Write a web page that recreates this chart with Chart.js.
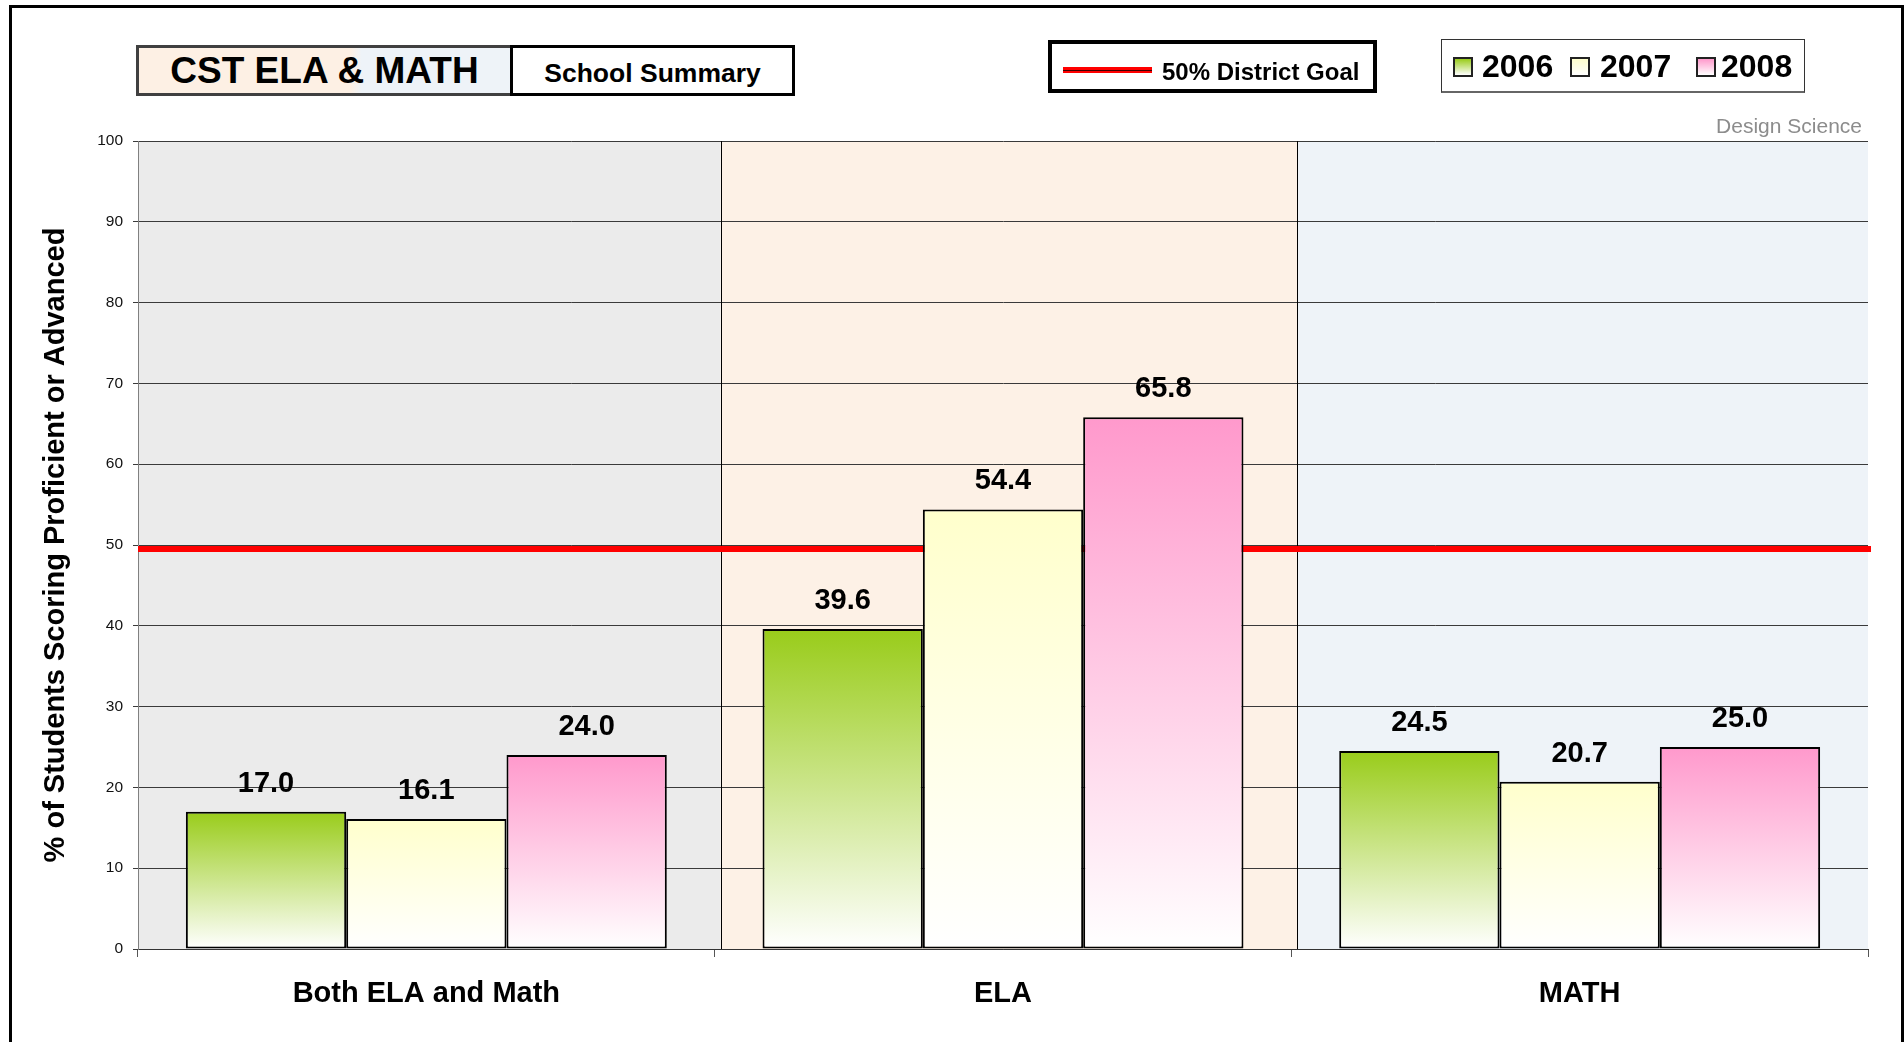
<!DOCTYPE html>
<html>
<head>
<meta charset="utf-8">
<script src="https://cdn.jsdelivr.net/npm/chart.js@4.4.1/dist/chart.umd.min.js"></script>
<style>
  html, body { margin: 0; padding: 0; background: #fff; width: 1904px; height: 1042px; overflow: hidden; }
  body { position: relative; font-family: "Liberation Sans", Arial, sans-serif; }
  #chart { position: absolute; left: 0; top: 0; }
  .abs { position: absolute; box-sizing: border-box; }
  .txt { position: absolute; line-height: 1; white-space: nowrap; font-weight: bold; color: #000; }
  #frame { left: 9px; top: 5px; width: 1895px; height: 1100px; border: 3px solid #000; }
  #titleL { left: 136px; top: 45px; width: 377px; height: 51px; border: 3px solid #404040;
    background: linear-gradient(to right, #fdf0e4 0%, #fdf0e4 57%, #eef3f8 60%, #eef3f8 100%); }
  #titleR { left: 510px; top: 45px; width: 285px; height: 51px; border: 3px solid #000; background: #fff; }
  #goalBox { left: 1048px; top: 40px; width: 329px; height: 53px; border: 4px solid #000; background: #fff; }
  #yearBox { left: 1441px; top: 39px; width: 364px; height: 54px; border: 1px solid #333; border-bottom: 2px solid #666; background: #fff; }
  .sq { position: absolute; width: 20px; height: 20px; box-sizing: border-box; border: 2px solid #222; }
</style>
</head>
<body>
<canvas id="chart" width="1904" height="1042"></canvas>
<div class="abs" id="frame"></div>
<div class="abs" id="titleL"></div>
<div class="abs" id="titleR"></div>
<div class="txt" id="titleText" style="left:136px; width:377px; text-align:center; top:51.7px; font-size:37px;"></div>
<div class="txt" id="subText" style="left:510px; width:285px; text-align:center; top:59.6px; font-size:26.5px;"></div>
<div class="abs" id="goalBox"></div>
<div class="abs" style="left:1063px; top:67px; width:89px; height:6px; background:#ff0000;"></div>
<div class="abs" style="left:1063px; top:69.5px; width:89px; height:1px; background:#400000;"></div>
<div class="txt" id="goalText" style="left:1162px; top:59.7px; font-size:24px;"></div>
<div class="abs" id="yearBox"></div>
<div id="yearItems"></div>
<div class="txt" id="credit" style="right:42px; top:115.2px; font-size:21px; font-weight:normal; color:#8c8c8c;"></div>

<script>
// ---- data ----
const categories = ['Both ELA and Math', 'ELA', 'MATH'];
const years = ['2006', '2007', '2008'];
const values2006 = [17.0, 39.6, 24.5];
const values2007 = [16.1, 54.4, 20.7];
const values2008 = [24.0, 65.8, 25.0];
const districtGoal = 50;
const yMin = 0, yMax = 100, yStep = 10;
const yAxisTitle = '% of Students Scoring Proficient or Advanced';
const titleMain = 'CST ELA & MATH';
const titleSub = 'School Summary';
const goalLabel = '50% District Goal';
const creditLabel = 'Design Science';

// ---- styles ----
const FONT = '"Liberation Sans", Arial, sans-serif';
const topColors = ['#99cc1a', '#ffffcc', '#ff99cc'];
const bandColors = ['#ebebeb', '#fdf1e6', '#eef3f8'];

document.getElementById('titleText').textContent = titleMain;
document.getElementById('subText').textContent = titleSub;
document.getElementById('goalText').textContent = goalLabel;
document.getElementById('credit').textContent = creditLabel;

// year legend
const sqX = [1453, 1570, 1696];
const txX = [1482, 1600, 1721];
const yi = document.getElementById('yearItems');
years.forEach((y, i) => {
  const s = document.createElement('div');
  s.className = 'sq';
  s.style.left = sqX[i] + 'px';
  s.style.top = '57px';
  s.style.background = `linear-gradient(to bottom, ${topColors[i]}, #ffffff)`;
  yi.appendChild(s);
  const t = document.createElement('div');
  t.className = 'txt';
  t.style.left = txX[i] + 'px';
  t.style.top = '50px';
  t.style.fontSize = '32px';
  t.textContent = y;
  yi.appendChild(t);
});

Chart.defaults.font.family = FONT;

function gradientFor(i) {
  return (ctx) => {
    const chart = ctx.chart;
    const area = chart.chartArea;
    if (!area || ctx.type !== 'data') return topColors[i];
    const ys = chart.scales.y;
    const yTop = ys.getPixelForValue(ctx.raw);
    const yBase = ys.getPixelForValue(0);
    const g = chart.ctx.createLinearGradient(0, yTop, 0, yBase);
    g.addColorStop(0, topColors[i]);
    g.addColorStop(1, '#ffffff');
    return g;
  };
}

function boundary(xs, i) {
  return (xs.getPixelForValue(i - 1) + xs.getPixelForValue(i)) / 2;
}

const bandsPlugin = {
  id: 'bands',
  beforeDraw(chart) {
    const { ctx, chartArea: a, scales } = chart;
    const xs = scales.x;
    ctx.save();
    for (let i = 0; i < categories.length; i++) {
      const x0 = i === 0 ? a.left : boundary(xs, i) + 6;
      const x1 = i === categories.length - 1 ? a.right : boundary(xs, i + 1) + 6;
      ctx.fillStyle = bandColors[i];
      ctx.fillRect(x0, a.top, x1 - x0, a.bottom - a.top);
    }
    ctx.restore();
  },
  beforeDatasetsDraw(chart) {
    const { ctx, chartArea: a, scales } = chart;
    const xs = scales.x, ys = scales.y;
    ctx.save();
    ctx.strokeStyle = '#000';
    ctx.lineWidth = 1;
    for (let i = 1; i < categories.length; i++) {
      const x = Math.round(boundary(xs, i) + 6) + 0.5;
      ctx.beginPath();
      ctx.moveTo(x, a.top);
      ctx.lineTo(x, a.bottom);
      ctx.stroke();
    }
    const gy = ys.getPixelForValue(districtGoal);
    ctx.fillStyle = '#ff0000';
    ctx.fillRect(a.left, gy + 1, a.right - a.left + 3, 6);
    ctx.restore();
  },
  afterDatasetsDraw(chart) {
    const { ctx } = chart;
    ctx.save();
    ctx.font = 'bold 29px ' + FONT;
    ctx.fillStyle = '#000';
    ctx.textAlign = 'center';
    ctx.textBaseline = 'alphabetic';
    chart.data.datasets.forEach((ds, i) => {
      const meta = chart.getDatasetMeta(i);
      meta.data.forEach((bar, j) => {
        ctx.fillText(ds.data[j].toFixed(1), bar.x, bar.y - 20);
      });
    });
    ctx.restore();
  }
};

const seriesValues = [values2006, values2007, values2008];

new Chart(document.getElementById('chart'), {
  type: 'bar',
  data: {
    labels: categories,
    datasets: years.map((y, i) => ({
      label: y,
      data: seriesValues[i],
      backgroundColor: gradientFor(i),
      borderColor: '#000',
      borderWidth: 2,
      borderSkipped: false,
      categoryPercentage: 0.834,
      barPercentage: 1.0
    }))
  },
  options: {
    responsive: false,
    animation: false,
    devicePixelRatio: 1,
    layout: { padding: { left: 0, top: 141, right: 36, bottom: 0 } },
    plugins: { legend: { display: false }, tooltip: { enabled: false } },
    scales: {
      x: {
        offset: true,
        grid: { display: true, offset: true, drawOnChartArea: false, drawTicks: true, tickLength: 8, color: '#555', lineWidth: 1 },
        border: { display: true, color: '#333', width: 1 },
        ticks: { color: '#000', font: { size: 29, weight: 'bold' }, padding: 20, maxRotation: 0, autoSkip: false },
        afterFit(scale) { scale.height = 93; scale.paddingLeft = 0; scale.paddingRight = 0; }
      },
      y: {
        min: yMin, max: yMax,
        ticks: { stepSize: yStep, color: '#111', font: { size: 15.5 }, padding: 10 },
        grid: { color: '#3a3a3a', lineWidth: 1, drawTicks: true, tickLength: 5 },
        border: { display: true, color: '#808080', width: 1 },
        title: { display: true, text: yAxisTitle, color: '#000', font: { size: 29, weight: 'bold' }, padding: { top: 39, bottom: 0 } },
        afterFit(scale) { scale.width = 138; scale.paddingTop = 0; scale.paddingBottom = 0; }
      }
    }
  },
  plugins: [bandsPlugin]
});
</script>
</body>
</html>
